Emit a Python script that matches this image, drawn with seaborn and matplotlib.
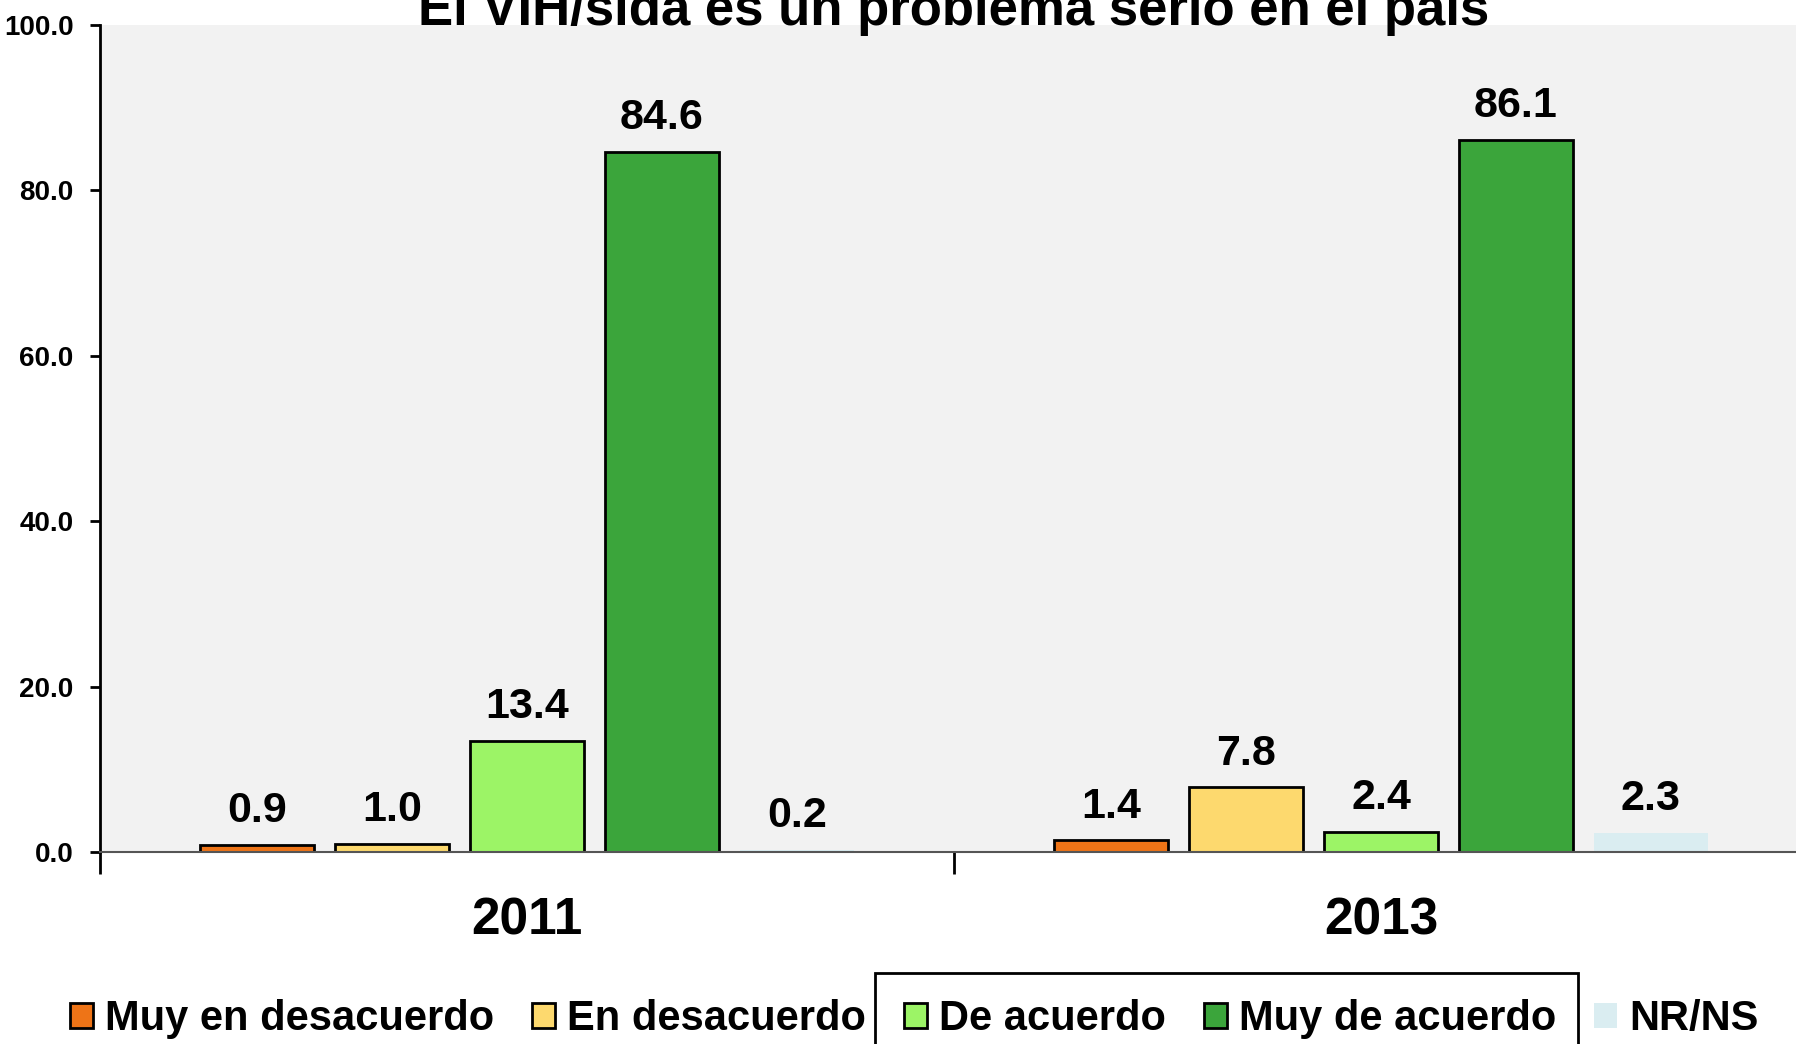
import numpy as np
import pandas as pd
import seaborn as sns
import matplotlib.pyplot as plt
from matplotlib.patches import Patch, Rectangle

years = ["2011", "2013"]
categories = ["Muy en desacuerdo", "En desacuerdo", "De acuerdo", "Muy de acuerdo", "NR/NS"]
values_2011 = [0.9, 1.0, 13.4, 84.6, 0.2]
values_2013 = [1.4, 7.8, 2.4, 86.1, 2.3]
colors = ["#EE7417", "#FDD96E", "#9CF466", "#3BA53B", "#DAEDF1"]
yticks = [0.0, 20.0, 40.0, 60.0, 80.0, 100.0]
title = "El VIH/sida es un problema serio en el país"


def build_frame():
    rows = []
    for year, vals in zip(years, [values_2011, values_2013]):
        for cat, v in zip(categories, vals):
            rows.append({"year": year, "category": cat, "value": v})
    return pd.DataFrame(rows)


def draw(frame):
    sns.set_theme(style="white")
    plt.rcParams['font.family'] = ['Liberation Sans', 'DejaVu Sans']
    plt.rcParams['font.weight'] = 'bold'
    plt.rcParams['text.color'] = 'black'
    plt.rcParams['xtick.color'] = 'black'
    plt.rcParams['ytick.color'] = 'black'

    fig = plt.figure(figsize=(17.96, 10.44), dpi=100)
    ax = fig.add_axes([100 / 1796, 192 / 1044, 1708 / 1796, 827 / 1044])
    ax.set_facecolor("#F2F2F2")

    sns.barplot(data=frame, x="year", y="value", hue="category", order=years,
                hue_order=categories, palette=colors, saturation=1, width=0.79, gap=0.16,
                edgecolor="black", linewidth=2, legend=False, ax=ax)

    # NR/NS bars have no outline
    for bar in ax.containers[4]:
        bar.set_edgecolor("none")

    for cont in ax.containers:
        ax.bar_label(cont, fmt="%.1f", padding=10, fontsize=31, fontweight="bold",
                     color="black")

    ax.set_xlim(-0.5, 1.5)
    ax.set_ylim(0, 100)
    ax.set_yticks(yticks)
    ax.set_yticklabels(["%.1f" % t for t in yticks], fontsize=20, fontweight="bold")
    ax.tick_params(axis="y", direction="out", length=7, width=2, color="black",
                   left=True, pad=12)

    ax.set_xticks([-0.5, 0.5])
    ax.set_xticklabels(["", ""])
    ax.tick_params(axis="x", which="major", direction="out", length=16, width=2,
                   color="black", bottom=True)
    ax.set_xticks([0, 1], minor=True)
    ax.set_xticklabels(years, minor=True, fontsize=37, fontweight="bold")
    ax.tick_params(axis="x", which="minor", length=0, pad=32)
    ax.set_xlabel("")
    ax.set_ylabel("")

    for side in ["top", "right"]:
        ax.spines[side].set_visible(False)
    ax.spines["left"].set_color("black")
    ax.spines["left"].set_linewidth(2)
    ax.spines["bottom"].set_color("#555555")
    ax.spines["bottom"].set_linewidth(1.5)

    fig.text(954 / 1796, 1 - 25 / 1044, title, ha="center", va="baseline",
             fontsize=38, fontweight="bold")

    handles = [Patch(facecolor=c, edgecolor="black" if i < 4 else "none", linewidth=2)
               for i, c in enumerate(colors)]
    fig.legend(handles, categories, loc="center left", bbox_to_anchor=(70 / 1796, 25 / 1044),
               ncol=5, frameon=False, fontsize=30, handlelength=0.55, handleheight=0.55,
               handletextpad=0.3, columnspacing=0.9, borderaxespad=0, borderpad=0)

    # stray frame around the middle legend entries
    fig.patches.append(Rectangle((875 / 1796, -0.01), 703 / 1796, (1044 - 973) / 1044 + 0.01,
                                 transform=fig.transFigure, fill=False,
                                 edgecolor="black", linewidth=2))

    fig.savefig("out.png", dpi=100)


if __name__ == '__main__':
    draw(build_frame())
